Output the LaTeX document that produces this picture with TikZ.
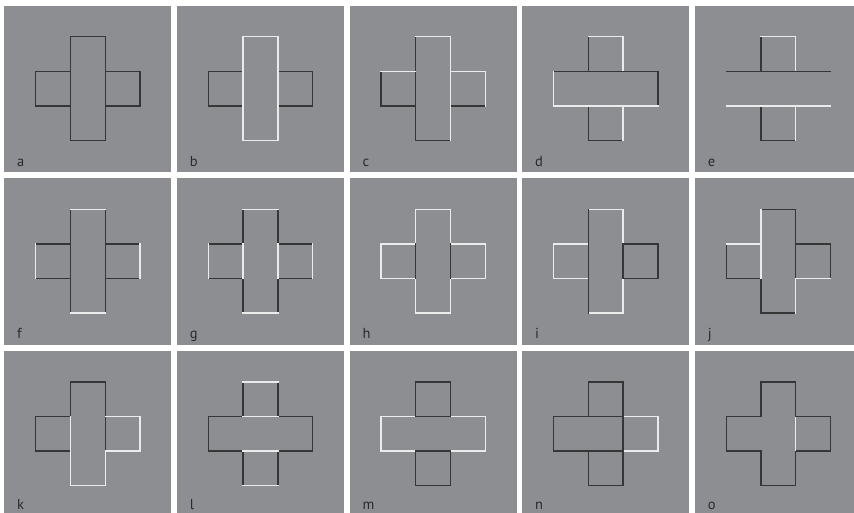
\documentclass[tikz,border=0pt]{standalone}
\usepackage{fontspec}
\setmainfont{PT Sans}
\definecolor{panelgray}{HTML}{8D8E92}
\definecolor{darkline}{HTML}{363636}
\definecolor{lightline}{HTML}{EBEBEB}
\definecolor{labelcol}{HTML}{2A2A2A}
\newcommand\mypanel[4]{%
  \pgfmathsetmacro\cx{87.8+172.65*#1}%
  \pgfmathsetmacro\cy{88.7+172.55*#2}%
  \pgfmathsetmacro\ly{166.5+171.5*#2}%
  \fill[panelgray] (\cx-83.4,\cy-83.2) rectangle (\cx+83.4,\cy+83.4);
  \node[lbl] (lab#3) at (\cx-70.8,\ly) {#3};
  \begin{scope}[shift={(\cx,\cy)},x=34.8pt,y=34.6pt]
  #4
  \end{scope}}
\begin{document}
\begin{tikzpicture}[x=1pt,y=-1pt,
  dk/.style={draw=darkline,line width=1.35pt,line cap=rect,line join=miter},
  lt/.style={draw=lightline,line width=1.35pt,line cap=rect,line join=miter},
  lbl/.style={anchor=base west,inner sep=0pt,text=labelcol,font=\fontsize{14.5}{14.5}\selectfont}]
\useasboundingbox (0,0) rectangle (854,512);
\fill[white] (0,0) rectangle (854,512);
\clip (0,0) rectangle (854,512);
% a
\mypanel{0}{0}{a}{%
  \draw[dk] (-0.5,-1.5) rectangle (0.5,1.5);
  \draw[dk] (-0.5,0.5)--(-1.5,0.5)--(-1.5,-0.5)--(-0.5,-0.5);
  \draw[dk] (0.5,0.5)--(1.5,0.5)--(1.5,-0.5)--(0.5,-0.5);}
% b
\mypanel{1}{0}{b}{%
  \draw[dk] (-0.5,0.5)--(-1.5,0.5)--(-1.5,-0.5)--(-0.5,-0.5);
  \draw[dk] (0.5,0.5)--(1.5,0.5)--(1.5,-0.5)--(0.5,-0.5);
  \draw[lt] (-0.5,-1.5) rectangle (0.5,1.5);}
% c
\mypanel{2}{0}{c}{%
  \draw[dk] (0.5,-1.5)--(-0.5,-1.5)--(-0.5,1.5);
  \draw[dk] (-0.5,-0.5)--(-1.5,-0.5)--(-1.5,0.5);
  \draw[dk] (0.5,-0.5)--(1.5,-0.5);
  \draw[lt] (-0.5,1.5)--(0.5,1.5)--(0.5,-1.5);
  \draw[lt] (-1.5,0.5)--(-0.5,0.5);
  \draw[lt] (0.5,0.5)--(1.5,0.5)--(1.5,-0.5);}
% d
\mypanel{3}{0}{d}{%
  \draw[dk] (-0.5,0.5)--(-0.5,1.5);
  \draw[lt] (-0.5,1.5)--(0.5,1.5)--(0.5,0.5);
  \draw[dk] (-0.5,-0.5)--(-0.5,-1.5)--(0.5,-1.5);
  \draw[lt] (0.5,-1.5)--(0.5,-0.5);
  \draw[dk] (-1.5,0.5)--(1.5,0.5)--(1.5,-0.5);
  \draw[lt] (1.5,-0.5)--(-1.5,-0.5)--(-1.5,0.5);}
% e
\mypanel{4}{0}{e}{%
  \draw[dk] (-0.5,0.5)--(-0.5,1.5);
  \draw[lt] (-0.5,1.5)--(0.5,1.5)--(0.5,0.5);
  \draw[dk] (-0.5,-0.5)--(-0.5,-1.5)--(0.5,-1.5);
  \draw[lt] (0.5,-1.5)--(0.5,-0.5);
  \draw[dk,line cap=butt] (-1.5,0.5)--(1.5,0.5);
  \draw[lt,line cap=butt] (-1.5,-0.5)--(1.5,-0.5);}
% f
\mypanel{0}{1}{f}{%
  \draw[dk] (-0.5,1.5)--(-0.5,-1.5);
  \draw[dk] (0.5,1.5)--(0.5,-1.5);
  \draw[lt] (-0.5,1.5)--(0.5,1.5);
  \draw[lt] (-0.5,-1.5)--(0.5,-1.5);
  \draw[dk] (-0.5,0.5)--(-1.5,0.5);
  \draw[dk] (-1.5,-0.5)--(-0.5,-0.5);
  \draw[lt] (-1.5,0.5)--(-1.5,-0.5);
  \draw[dk] (0.5,0.5)--(1.5,0.5);
  \draw[dk] (0.5,-0.5)--(1.5,-0.5);
  \draw[lt] (1.5,0.5)--(1.5,-0.5);}
% g
\mypanel{1}{1}{g}{%
  \draw[dk] (-0.5,1.5)--(-0.5,0.5);
  \draw[dk] (-0.5,-0.5)--(-0.5,-1.5);
  \draw[dk] (0.5,1.5)--(0.5,0.5);
  \draw[dk] (0.5,-0.5)--(0.5,-1.5);
  \draw[lt] (-0.5,1.5)--(0.5,1.5);
  \draw[lt] (-0.5,-1.5)--(0.5,-1.5);
  \draw[dk] (-0.5,0.5)--(-1.5,0.5);
  \draw[dk] (-1.5,-0.5)--(-0.5,-0.5);
  \draw[dk] (0.5,0.5)--(1.5,0.5);
  \draw[dk] (0.5,-0.5)--(1.5,-0.5);
  \draw[lt] (-1.5,0.5)--(-1.5,-0.5);
  \draw[lt] (1.5,0.5)--(1.5,-0.5);
  \draw[lt] (-0.5,0.5)--(-0.5,-0.5);
  \draw[lt] (0.5,0.5)--(0.5,-0.5);}
% h
\mypanel{2}{1}{h}{%
  \draw[lt] (-0.5,1.5)--(0.5,1.5)--(0.5,0.5)--(1.5,0.5)--(1.5,-0.5)--(0.5,-0.5)--(0.5,-1.5)--(-0.5,-1.5)--(-0.5,-0.5)--(-1.5,-0.5)--(-1.5,0.5)--(-0.5,0.5)--cycle;
  \draw[dk] (-0.5,0.5)--(-0.5,-0.5);
  \draw[dk] (0.5,0.5)--(0.5,-0.5);}
% i
\mypanel{3}{1}{i}{%
  \draw[lt] (-0.5,1.5)--(0.5,1.5)--(0.5,0.5);
  \draw[lt] (0.5,-0.5)--(0.5,-1.5)--(-0.5,-1.5);
  \draw[lt] (-0.5,0.5)--(-1.5,0.5)--(-1.5,-0.5)--(-0.5,-0.5);
  \draw[dk] (-0.5,1.5)--(-0.5,-1.5);
  \draw[dk] (0.5,0.5) rectangle (1.5,-0.5);}
% j
\mypanel{4}{1}{j}{%
  \draw[dk] (-0.5,1.5)--(0.5,1.5)--(0.5,-0.5);
  \draw[dk] (0.5,0.5)--(1.5,0.5)--(1.5,-0.5);
  \draw[dk] (-1.5,0.5)--(-1.5,-0.5)--(-0.5,-0.5)--(-0.5,-1.5)--(0.5,-1.5);
  \draw[lt] (-1.5,0.5)--(-0.5,0.5);
  \draw[lt] (-0.5,-0.5)--(-0.5,1.5);
  \draw[lt] (1.5,-0.5)--(0.5,-0.5)--(0.5,-1.5);}
% k
\mypanel{0}{2}{k}{%
  \draw[dk] (-0.5,0.5)--(-0.5,1.5)--(0.5,1.5)--(0.5,-0.5);
  \draw[dk] (-0.5,0.5)--(-1.5,0.5)--(-1.5,-0.5)--(-0.5,-0.5);
  \draw[lt] (-0.5,0.5)--(-0.5,-1.5)--(0.5,-1.5)--(0.5,-0.5)--(1.5,-0.5)--(1.5,0.5)--(0.5,0.5);}
% l
\mypanel{1}{2}{l}{%
  \draw[dk] (-0.5,1.5)--(-0.5,0.5)--(-1.5,0.5)--(-1.5,-0.5)--(-0.5,-0.5)--(-0.5,-1.5);
  \draw[dk] (0.5,1.5)--(0.5,0.5)--(1.5,0.5)--(1.5,-0.5)--(0.5,-0.5)--(0.5,-1.5);
  \draw[lt] (-0.5,1.5)--(0.5,1.5);
  \draw[lt] (-0.5,0.5)--(0.5,0.5);
  \draw[lt] (-0.5,-0.5)--(0.5,-0.5);
  \draw[lt] (-0.5,-1.5)--(0.5,-1.5);}
% m
\mypanel{2}{2}{m}{%
  \draw[lt] (-0.5,0.5)--(-1.5,0.5)--(-1.5,-0.5)--(-0.5,-0.5);
  \draw[lt] (0.5,0.5)--(1.5,0.5)--(1.5,-0.5)--(0.5,-0.5);
  \draw[dk] (-0.5,0.5) rectangle (0.5,1.5);
  \draw[dk] (-0.5,-1.5) rectangle (0.5,-0.5);}
% n
\mypanel{3}{2}{n}{%
  \draw[lt] (0.5,0.5)--(1.5,0.5)--(1.5,-0.5)--(0.5,-0.5);
  \draw[dk] (0.5,0.5)--(0.5,1.5)--(-0.5,1.5)--(-0.5,0.5)--(-1.5,0.5)--(-1.5,-0.5)--(-0.5,-0.5)--(-0.5,-1.5)--(0.5,-1.5)--cycle;
  \draw[dk] (-0.5,0.5)--(0.5,0.5);
  \draw[dk] (-0.5,-0.5)--(0.5,-0.5);}
% o
\mypanel{4}{2}{o}{%
  \draw[dk] (-0.5,1.5)--(0.5,1.5)--(0.5,0.5)--(1.5,0.5)--(1.5,-0.5)--(0.5,-0.5)--(0.5,-1.5)--(-0.5,-1.5)--(-0.5,-0.5)--(-1.5,-0.5)--(-1.5,0.5)--(-0.5,0.5)--cycle;
  \draw[lt,line cap=butt] (0.5,0.5)--(0.5,-0.5);}
\end{tikzpicture}
\end{document}
